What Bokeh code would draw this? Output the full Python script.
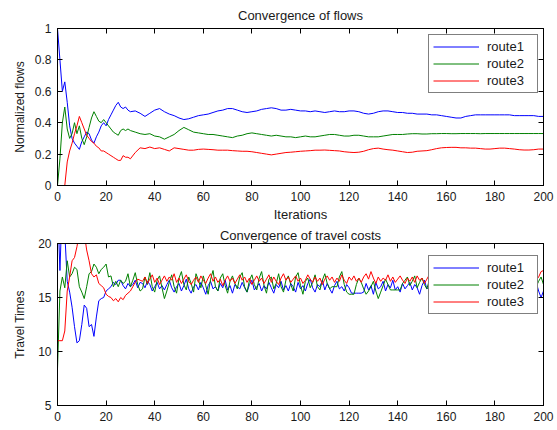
from bokeh.plotting import figure
from bokeh.layouts import column
from bokeh.models import LinearAxis, Legend, LegendItem, FixedTicker
from bokeh.embed import file_html
from bokeh.resources import INLINE

FONT = "Liberation Sans"

# ---- iteration indices ----
flow_iters = list(range(0, 31)) + list(range(32, 201, 2))
cost_iters = list(range(0, 201))

# ---- normalized flows ----
flow_route1 = [
    1.00, 0.80, 0.60, 0.66, 0.53, 0.38, 0.30, 0.27, 0.25, 0.23,
    0.28, 0.31, 0.34, 0.33, 0.29, 0.27, 0.31, 0.34, 0.38, 0.40,
    0.38, 0.42, 0.45, 0.48, 0.51, 0.53, 0.50, 0.49, 0.50, 0.48, 0.47,
    0.475, 0.46, 0.44, 0.46, 0.48, 0.49, 0.47, 0.455, 0.445, 0.43,
    0.42, 0.425, 0.435, 0.445, 0.45, 0.455, 0.465, 0.475, 0.48, 0.49,
    0.49, 0.48, 0.47, 0.465, 0.47, 0.475, 0.485, 0.49, 0.495, 0.49,
    0.48, 0.48, 0.485, 0.48, 0.475, 0.475, 0.47, 0.475, 0.47, 0.465,
    0.47, 0.475, 0.47, 0.47, 0.475, 0.475, 0.47, 0.46, 0.455, 0.46,
    0.47, 0.475, 0.475, 0.47, 0.465, 0.465, 0.46, 0.46, 0.455, 0.455,
    0.455, 0.45, 0.45, 0.445, 0.44, 0.435, 0.43, 0.43, 0.44, 0.445,
    0.45, 0.45, 0.45, 0.45, 0.45, 0.45, 0.45, 0.45, 0.445, 0.445,
    0.445, 0.445, 0.445, 0.44, 0.44,
]
flow_route2 = [
    0.00, 0.17, 0.40, 0.50, 0.36, 0.30, 0.33, 0.40, 0.33, 0.38,
    0.30, 0.26, 0.31, 0.37, 0.43, 0.47, 0.44, 0.41, 0.40, 0.42,
    0.40, 0.38, 0.36, 0.34, 0.33, 0.32, 0.35, 0.36, 0.35, 0.36, 0.35,
    0.34, 0.33, 0.325, 0.33, 0.315, 0.31, 0.295, 0.31, 0.325, 0.35,
    0.37, 0.355, 0.34, 0.335, 0.33, 0.325, 0.325, 0.32, 0.315, 0.31,
    0.305, 0.315, 0.32, 0.33, 0.335, 0.33, 0.325, 0.32, 0.315, 0.32,
    0.315, 0.31, 0.31, 0.305, 0.31, 0.315, 0.31, 0.31, 0.315, 0.32,
    0.325, 0.325, 0.32, 0.315, 0.315, 0.32, 0.32, 0.315, 0.31, 0.31,
    0.31, 0.315, 0.32, 0.325, 0.325, 0.325, 0.328, 0.33, 0.33, 0.328,
    0.328, 0.33, 0.33, 0.331, 0.331, 0.33, 0.33, 0.331, 0.331, 0.331,
    0.331, 0.33, 0.331, 0.331, 0.331, 0.331, 0.331, 0.331, 0.331, 0.331,
    0.331, 0.331, 0.331, 0.331, 0.331,
]
flow_route3 = [
    0.00, 0.00, 0.00, 0.00, 0.15, 0.22, 0.27, 0.33, 0.38, 0.44,
    0.40, 0.36, 0.32, 0.30, 0.28, 0.27, 0.25, 0.24, 0.22, 0.22,
    0.21, 0.20, 0.19, 0.18, 0.17, 0.16, 0.16, 0.19, 0.18, 0.18, 0.17,
    0.21, 0.24, 0.235, 0.245, 0.235, 0.24, 0.23, 0.22, 0.24, 0.235,
    0.23, 0.225, 0.225, 0.23, 0.232, 0.23, 0.228, 0.225, 0.225, 0.225,
    0.222, 0.22, 0.218, 0.218, 0.215, 0.21, 0.205, 0.2, 0.195, 0.2,
    0.205, 0.21, 0.212, 0.215, 0.218, 0.22, 0.222, 0.225, 0.225, 0.226,
    0.224, 0.222, 0.22, 0.215, 0.212, 0.21, 0.212, 0.218, 0.228, 0.235,
    0.238, 0.232, 0.228, 0.225, 0.22, 0.215, 0.21, 0.212, 0.218, 0.22,
    0.222, 0.228, 0.235, 0.24, 0.242, 0.243, 0.243, 0.24, 0.24, 0.238,
    0.238, 0.235, 0.232, 0.232, 0.235, 0.238, 0.238, 0.235, 0.232, 0.228,
    0.226, 0.226, 0.228, 0.232, 0.232,
]

# ---- travel costs ----
cost_route1 = [
    24.0, 17.5, 24.0, 21.0, 16.5, 15.5, 14.1, 12.3, 10.8, 11.0,
    12.5, 14.3, 14.0, 12.3, 12.5, 11.4, 13.2, 14.7, 14.9, 15.0,
    15.6, 15.8, 16.0, 16.4, 16.2, 16.6, 16.6, 16.1, 15.8, 16.3,
    16.0, 16.2, 16.6, 15.9, 16.4,
    16.3, 15.9, 16.5, 16.2, 15.6, 16.0, 16.4, 15.8, 16.1, 15.7,
    16.2, 16.6, 15.9, 15.5, 16.0, 16.3, 15.6, 16.1, 16.7, 15.8,
    15.4, 16.0, 16.2, 15.7, 16.4, 15.9, 15.3, 16.1, 16.5, 15.8,
    16.0, 15.6, 16.3, 15.9, 16.6, 15.7, 16.1, 15.4, 16.2, 16.0,
    15.8, 16.4, 15.9, 15.5, 16.2, 16.6, 15.7, 16.0, 16.3, 15.6,
    16.1, 15.8, 16.4, 15.9, 15.4, 16.2, 15.9, 16.5, 15.7, 16.1,
    15.6, 16.3, 16.0, 15.5, 16.4, 15.8, 16.1, 15.6, 16.3, 16.7,
    15.9, 15.5, 16.2, 16.0, 16.6, 15.7, 16.3, 15.8, 15.4, 16.1,
    16.5, 15.8, 16.0, 15.6, 16.2, 15.9, 15.4, 15.4, 15.4, 15.4,
    15.4, 15.5, 16.3, 15.7, 16.1, 15.3, 16.4, 15.8, 16.0, 16.5,
    15.6, 16.2, 15.9, 16.6, 15.7, 16.0, 15.5, 16.3, 15.8, 16.1,
    16.4, 15.7, 16.2, 15.9, 15.3, 16.1, 16.6, 15.8, 16.0, 16.3,
    15.7, 16.2, 15.9, 16.5, 16.0, 15.6, 16.3, 15.8, 16.1, 16.4,
    15.9, 16.2, 15.7, 16.0, 16.6, 15.8, 16.3, 16.1, 15.6, 16.2,
    16.0, 16.4, 15.8, 16.1, 16.5, 15.9, 16.2, 15.7, 16.3, 16.0,
    16.4, 15.8, 16.1, 16.6, 15.9, 16.2, 16.0, 15.7, 16.3, 16.5,
    16.1, 15.8, 16.4, 15.6, 15.0, 15.6,
]
cost_route2 = [
    8.4, 15.6, 16.9, 15.9, 18.4, 16.9, 17.2, 17.8, 17.6, 16.0,
    15.5, 14.9, 16.0, 17.2, 17.4, 18.1, 17.8, 17.2, 17.6, 17.8,
    18.1, 16.9, 17.0, 16.0, 16.5, 16.0, 16.6, 16.3, 16.5, 17.2,
    16.0, 16.6, 17.3, 16.2, 15.6,
    15.8, 16.9, 16.2, 17.3, 16.0, 15.5, 16.6, 17.0, 15.9, 14.9,
    15.6, 16.4, 17.1, 16.0, 15.4, 16.8, 17.4, 16.2, 15.7, 16.9,
    16.3, 15.5, 17.2, 16.6, 15.9, 17.0, 16.1, 15.3, 16.7, 17.5,
    16.0, 15.6, 16.8, 17.2, 16.1, 15.4, 16.5, 17.0, 16.3, 15.8,
    16.9, 17.3, 16.0, 15.5, 16.6, 17.1, 16.2, 15.7, 16.8, 17.4,
    16.1, 15.4, 16.7, 16.9, 15.8, 16.3, 17.2, 16.0, 15.5, 16.6,
    17.0, 16.2, 15.6, 16.9, 17.3, 16.1, 15.3, 16.5, 16.8, 15.9,
    16.4, 17.1, 16.0, 15.7, 16.6, 17.2, 16.3, 15.8, 16.0, 16.0,
    16.0, 16.9, 17.4, 16.2, 15.5, 15.3, 15.3, 15.3, 16.2, 16.8,
    16.4, 15.8, 15.3, 15.6, 16.0, 16.5, 15.6, 14.9, 15.5, 16.1,
    16.7, 16.2, 15.7, 15.7, 15.7, 15.7, 15.7, 16.3, 16.6, 16.9,
    16.1, 16.5, 17.0, 15.9, 16.4, 16.8, 16.2, 15.8, 16.6, 17.1,
    16.3, 15.9, 16.7, 16.4, 17.0, 16.1, 15.8, 16.5, 16.9, 16.2,
    16.6, 17.1, 16.0, 15.7, 16.4, 16.8, 16.3, 16.9, 16.1, 15.8,
    16.5, 17.0, 16.2, 16.6, 15.9, 16.4, 16.8, 16.1, 16.7, 16.3,
    15.8, 16.6, 17.1, 16.2, 16.5, 16.0, 16.9, 16.4, 15.9, 16.7,
    16.3, 16.8, 16.0, 16.5, 16.9, 16.2,
]
cost_route3 = [
    11.0, 11.0, 11.0, 11.9, 15.6, 16.9, 18.4, 18.7, 19.7, 21.0,
    22.0, 21.0, 19.4, 18.4, 17.2, 16.9, 17.1, 16.3, 16.1, 15.9,
    15.3, 15.1, 15.0, 14.7, 14.9, 14.6, 15.0, 14.8, 15.2, 15.4,
    15.6, 16.0, 16.4, 16.7, 16.6,
    16.5, 16.9, 16.3, 16.7, 17.1, 16.4, 16.8, 16.2, 16.6, 17.0,
    16.5, 16.9, 16.6, 17.2, 16.4, 16.8, 16.3, 16.7, 17.1, 16.5,
    16.2, 16.6, 16.9, 16.4, 17.0, 16.6, 16.3, 16.8, 17.2, 16.5,
    16.9, 16.4, 16.7, 16.1, 16.6, 17.0, 16.5, 16.8, 16.3, 16.7,
    17.1, 16.6, 16.9, 16.4, 16.8, 16.2, 16.6, 17.0, 16.5, 16.8,
    16.3, 16.7, 17.1, 16.4, 16.9, 16.5, 16.2, 16.8, 17.2, 16.6,
    16.9, 16.4, 16.7, 17.0, 16.5, 16.8, 16.3, 16.6, 17.1, 16.7,
    16.4, 16.9, 16.5, 16.8, 16.2, 16.7, 17.0, 16.6, 16.9, 16.4,
    16.8, 16.5, 17.1, 16.6, 16.3, 16.9, 16.6, 17.0, 16.5, 16.8,
    16.4, 16.9, 17.2, 16.7, 17.4, 16.8, 16.3, 16.9, 16.5, 16.8,
    16.6, 17.1, 16.5, 16.9, 16.4, 16.7, 17.0, 16.6, 16.3, 16.8,
    16.5, 16.9, 16.4, 17.0, 16.6, 16.8, 16.3, 16.7, 17.1, 16.5,
    16.9, 16.6, 16.4, 16.8, 17.0, 16.5, 16.7, 16.3, 16.9, 16.6,
    16.8, 16.4, 17.0, 16.6, 16.5, 16.9, 16.3, 16.7, 17.1, 16.6,
    16.4, 16.8, 16.5, 17.0, 16.7, 16.3, 16.9, 16.6, 16.8, 16.4,
    16.9, 16.5, 17.1, 16.6, 16.8, 16.4, 16.7, 17.0, 16.5, 16.8,
    16.4, 16.7, 16.6, 16.9, 17.4, 17.5,
]

route_names = ["route1", "route2", "route3"]
route_colors = ["#0000ff", "#008000", "#ff0000"]

x_ticks = [0, 20, 40, 60, 80, 100, 120, 140, 160, 180, 200]
flow_ticks = [0, 0.2, 0.4, 0.6, 0.8, 1]
cost_ticks = [5, 10, 15, 20]


def style_axis(ax, ticks, show_labels):
    ax.ticker = FixedTicker(ticks=ticks)
    ax.major_tick_in = 5
    ax.major_tick_out = 0
    ax.minor_tick_line_color = None
    ax.axis_line_color = "black"
    ax.major_tick_line_color = "black"
    ax.major_label_text_font = FONT
    ax.major_label_text_font_size = "12px"
    ax.major_label_text_color = "#1a1a1a"
    ax.axis_label_text_font = FONT
    ax.axis_label_text_font_size = "12px"
    ax.axis_label_text_font_style = "normal"
    ax.axis_label_text_color = "#1a1a1a"
    if not show_labels:
        # tick marks only on the mirrored box sides
        ax.major_label_overrides = {t: "" for t in ticks}
        ax.major_label_standoff = 0


def make_panel(title, ylabel, y_range, y_ticks, xs, series, height,
               top, bottom, title_gap, ylabel_gap, legend_top, frame_h,
               xlabel=None):
    p = figure(width=557, height=height, x_range=(0, 200), y_range=y_range,
               output_backend="svg", toolbar_location=None,
               min_border_left=57, min_border_right=14,
               min_border_top=top, min_border_bottom=bottom,
               x_axis_type=None, y_axis_type=None)
    p.title.text = title
    p.title.align = "center"
    p.title.text_font = FONT
    p.title.text_font_size = "13px"
    p.title.text_font_style = "normal"
    p.title.text_color = "#1a1a1a"
    p.title.standoff = title_gap
    p.grid.visible = False
    p.outline_line_color = "black"
    p.background_fill_color = "white"
    p.border_fill_color = "white"

    xb = LinearAxis(axis_label=xlabel)
    style_axis(xb, x_ticks, True)
    xb.axis_label_text_font_size = "13px"
    xb.major_label_standoff = 6
    xb.axis_label_standoff = 3
    p.add_layout(xb, "below")
    xt = LinearAxis()
    style_axis(xt, x_ticks, False)
    p.add_layout(xt, "above")

    yl = LinearAxis(axis_label=ylabel)
    style_axis(yl, y_ticks, True)
    yl.major_label_standoff = 6
    yl.axis_label_standoff = ylabel_gap
    p.add_layout(yl, "left")
    yr = LinearAxis()
    style_axis(yr, y_ticks, False)
    p.add_layout(yr, "right")

    items = []
    for name, color, ys in zip(route_names, route_colors, series):
        r = p.line(xs, ys, line_color=color, line_width=1)
        items.append(LegendItem(label=name, renderers=[r]))
    legend = Legend(items=items)
    legend.margin = 0
    legend.padding = 4
    legend.spacing = 2
    legend.glyph_width = 46
    legend.glyph_height = 15
    legend.label_height = 15
    legend.label_standoff = 8
    legend.label_width = 46
    legend.label_text_font = FONT
    legend.label_text_font_size = "13px"
    legend.label_text_color = "#1a1a1a"
    legend.border_line_color = "black"
    legend.border_line_width = 1
    legend.background_fill_alpha = 1
    # box anchored from the frame's lower-left corner, in pixels
    legend.location = (371, frame_h - legend_top - 57)
    p.add_layout(legend, "center")
    return p


top_panel = make_panel(
    "Convergence of flows", "Normalized flows", (0, 1), flow_ticks,
    flow_iters, [flow_route1, flow_route2, flow_route3],
    height=224, top=27, bottom=39, title_gap=11, ylabel_gap=5,
    legend_top=9, frame_h=158, xlabel="Iterations")
top_panel.yaxis[0].major_label_overrides = {0: "0", 1: "1"}

bottom_panel = make_panel(
    "Convergence of travel costs", "Travel Times", (5, 20), cost_ticks,
    cost_iters, [cost_route1, cost_route2, cost_route3],
    height=206, top=19, bottom=25, title_gap=1, ylabel_gap=8,
    legend_top=14, frame_h=162)

layout = column(top_panel, bottom_panel, spacing=0)
open("out.html", "w").write(file_html(layout, INLINE))
